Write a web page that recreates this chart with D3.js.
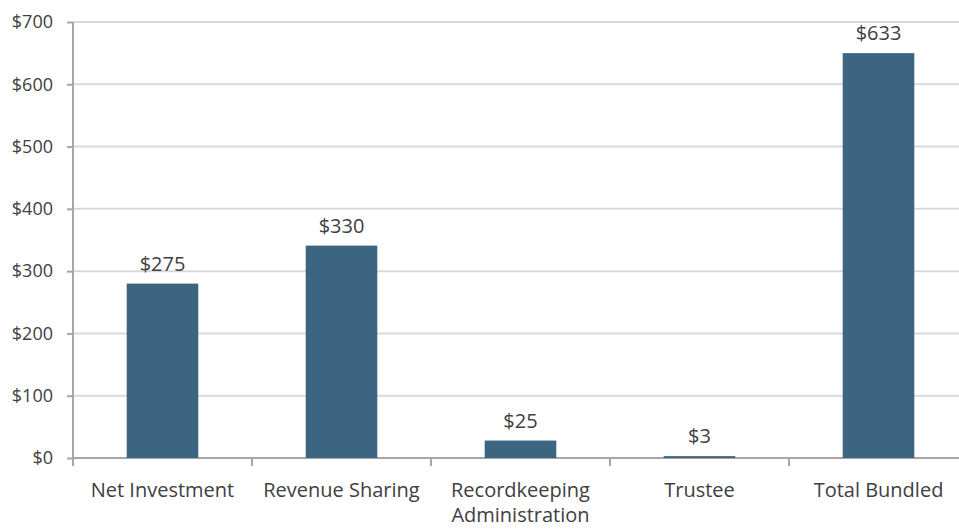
<!DOCTYPE html>
<html>
<head>
<meta charset="utf-8">
<script src="https://cdn.jsdelivr.net/npm/d3@7"></script>
<style>
  body { margin: 0; background: #fff; }
  .chart { width: 959px; height: 529px; }
  text { font-family: "Open Sans", sans-serif; fill: #404040; }
</style>
</head>
<body>
<div class="chart"></div>
<script>
// chart data
var categories = ["Net Investment", "Revenue Sharing", "Recordkeeping Administration", "Trustee", "Total Bundled"];
var barValues = [280, 341, 28, 3, 650];
var valueLabels = ["$275", "$330", "$25", "$3", "$633"];
var yTicks = [0, 100, 200, 300, 400, 500, 600, 700];

function drawColumnChart() {
  var eleChart = d3.select(".chart").html(""),
      margin = {top: 22, right: -9, bottom: 71, left: 73},
      fullW = 959, fullH = 529,
      width = fullW - margin.left - margin.right,
      height = fullH - margin.top - margin.bottom;

  var svg = eleChart.append("svg").attr("width", fullW).attr("height", fullH);
  var g = svg.append("g")
      .attr("transform", "translate(" + margin.left + "," + margin.top + ")");

  var x0 = d3.scaleBand().domain(categories).range([0, width]).padding(0),
      x = d3.scaleBand().domain(categories).range([0, width]).paddingInner(0.6).paddingOuter(0.3),
      y = d3.scaleLinear().domain([0, 700]).range([height, 0]);

  // gridlines
  g.selectAll(".grid")
    .data(yTicks.slice(1))
    .enter().append("line")
      .attr("x1", 0).attr("x2", width)
      .attr("y1", function(d) { return y(d); })
      .attr("y2", function(d) { return y(d); })
      .attr("stroke", "#d9d9d9")
      .attr("stroke-width", 2);

  // y axis
  var yAxis = g.append("g")
      .call(d3.axisLeft(y).tickValues(yTicks).tickSize(6).tickPadding(14)
        .tickFormat(function(d) { return "$" + d; }));
  yAxis.select(".domain").remove();
  yAxis.selectAll(".tick line").attr("stroke", "#a6a6a6").attr("stroke-width", 2);
  yAxis.selectAll("text").style("font-size", "18px").attr("fill", "#404040");

  g.append("line")
      .attr("x1", 0).attr("x2", 0)
      .attr("y1", y(700)).attr("y2", height + 8)
      .attr("stroke", "#a6a6a6").attr("stroke-width", 2);

  // x axis
  g.append("line")
      .attr("x1", 0).attr("x2", width)
      .attr("y1", height).attr("y2", height)
      .attr("stroke", "#a6a6a6").attr("stroke-width", 2);

  g.selectAll(".xtick")
    .data(categories.slice(1))
    .enter().append("line")
      .attr("x1", function(d) { return x0(d); })
      .attr("x2", function(d) { return x0(d); })
      .attr("y1", height).attr("y2", height + 8)
      .attr("stroke", "#a6a6a6").attr("stroke-width", 2);

  // category labels with wrapping
  var catLabels = g.selectAll(".cat")
    .data(categories)
    .enter().append("text")
      .attr("class", "cat")
      .attr("text-anchor", "middle")
      .attr("x", function(d) { return x0(d) + x0.bandwidth() / 2; })
      .attr("y", height + 39)
      .style("font-size", "20px");

  catLabels.each(function(d) {
    var el = d3.select(this), words = d.split(" "), lines = [], line = [];
    var probe = el.append("tspan");
    words.forEach(function(w) {
      line.push(w);
      probe.text(line.join(" "));
      if (probe.node().getComputedTextLength() > x0.bandwidth() - 4 && line.length > 1) {
        line.pop();
        lines.push(line.join(" "));
        line = [w];
      }
    });
    lines.push(line.join(" "));
    probe.remove();
    lines.forEach(function(l, i) {
      el.append("tspan")
        .attr("x", el.attr("x"))
        .attr("dy", i === 0 ? 0 : 25)
        .text(l);
    });
  });

  // bars
  g.selectAll(".bar")
    .data(barValues)
    .enter().append("rect")
      .attr("class", "bar")
      .attr("x", function(d, i) { return x(categories[i]); })
      .attr("y", function(d) { return y(d); })
      .attr("width", x.bandwidth())
      .attr("height", function(d) { return height - y(d); })
      .attr("fill", "#3c6581");

  // value labels
  g.selectAll(".val")
    .data(barValues)
    .enter().append("text")
      .attr("class", "val")
      .attr("text-anchor", "middle")
      .attr("x", function(d, i) { return x(categories[i]) + x.bandwidth() / 2; })
      .attr("y", function(d) { return y(d) - 13; })
      .style("font-size", "20px")
      .text(function(d, i) { return valueLabels[i]; });
}

drawColumnChart();
</script>
</body>
</html>
